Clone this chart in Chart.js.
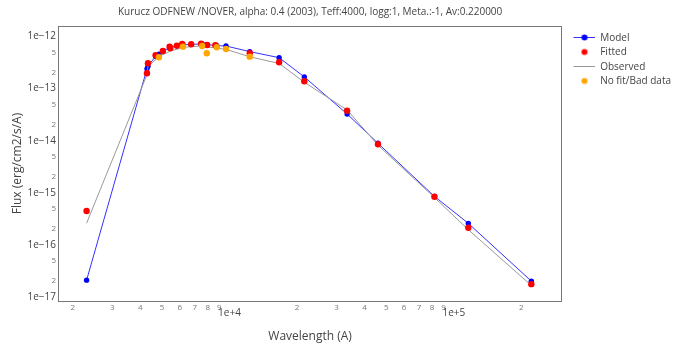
<!DOCTYPE html>
<html>
<head>
<meta charset="utf-8">
<script src="https://cdn.jsdelivr.net/npm/chart.js@4.4.1/dist/chart.umd.min.js"></script>
<style>
  html, body { margin: 0; padding: 0; background: #fff; }
  canvas { display: block; }
</style>
</head>
<body>
<canvas id="sedChart" width="692" height="351"></canvas>
<script>
const ctx = document.getElementById('sedChart');

const titleText = 'Kurucz ODFNEW /NOVER, alpha: 0.4 (2003), Teff:4000, logg:1, Meta.:-1, Av:0.220000';

// wavelengths in A, fluxes in erg/cm2/s/A
const modelWave = [2307, 4287, 4331, 4685, 4846, 5048, 5407, 5445, 5826, 6156, 6200, 6749, 7474, 7550, 7920, 7947, 8650, 8770, 9650, 12310, 16640, 21550, 33440, 45900, 81950, 116000, 221500];
const modelFlux = [2.09e-17, 2.4e-13, 2.7e-13, 4.2e-13, 4.6e-13, 5.3e-13, 6.1e-13, 6.2e-13, 6.6e-13, 6.9e-13, 6.9e-13, 7.1e-13, 7.2e-13, 7.2e-13, 7.0e-13, 7.0e-13, 6.8e-13, 6.7e-13, 6.6e-13, 5.15e-13, 3.94e-13, 1.68e-13, 3.26e-14, 8.9e-15, 8.5e-16, 2.58e-16, 2.0e-17];

const fitWave = [2307, 4287, 4331, 4685, 5048, 5407, 5445, 5826, 6156, 6749, 7474, 7947, 8650, 12310, 16640, 21550, 33440, 45900, 81950, 116000, 221500];
const fitFlux = [4.45e-16, 1.98e-13, 3.08e-13, 4.39e-13, 5.31e-13, 6.42e-13, 5.98e-13, 6.72e-13, 7.24e-13, 7.14e-13, 7.33e-13, 6.92e-13, 6.84e-13, 4.8e-13, 3.22e-13, 1.39e-13, 3.77e-14, 8.53e-15, 8.38e-16, 2.12e-16, 1.75e-17];

const obsWave = modelWave;
const obsFlux = [2.6e-16, 1.85e-13, 2.7e-13, 3.6e-13, 4.0e-13, 4.5e-13, 5.2e-13, 5.3e-13, 5.7e-13, 6.1e-13, 6.2e-13, 6.4e-13, 6.6e-13, 6.5e-13, 6.3e-13, 6.3e-13, 6.1e-13, 6.0e-13, 5.7e-13, 4.1e-13, 3.05e-13, 1.33e-13, 3.9e-14, 8.2e-15, 8.1e-16, 1.95e-16, 1.65e-17];

const noFitWave = [4846, 6200, 7550, 7920, 8770, 9650, 12310];
const noFitFlux = [4.02e-13, 6.42e-13, 6.62e-13, 4.8e-13, 6.25e-13, 5.8e-13, 4.12e-13];

const xTickValues = [2000, 3000, 4000, 5000, 6000, 7000, 8000, 9000, 10000, 20000, 30000, 40000, 50000, 60000, 70000, 80000, 90000, 100000, 200000];
const xTickLabels = ['2', '3', '4', '5', '6', '7', '8', '9', '1e+4', '2', '3', '4', '5', '6', '7', '8', '9', '1e+5', '2'];
const yTickValues = [1e-17, 2e-17, 5e-17, 1e-16, 2e-16, 5e-16, 1e-15, 2e-15, 5e-15, 1e-14, 2e-14, 5e-14, 1e-13, 2e-13, 5e-13, 1e-12];
const yTickLabels = ['1e\u221217', '2', '5', '1e\u221216', '2', '5', '1e\u221215', '2', '5', '1e\u221214', '2', '5', '1e\u221213', '2', '5', '1e\u221212'];

const toPoints = (w, f) => w.map((x, i) => ({ x: x, y: f[i] }));
const isMajor = label => label.startsWith('1e');

const makeIcon = (lineColor, dotColor) => {
  const c = document.createElement('canvas');
  c.width = 30;
  c.height = 10;
  const g = c.getContext('2d');
  if (lineColor) {
    g.strokeStyle = lineColor;
    g.lineWidth = 1;
    g.beginPath();
    g.moveTo(8, 4.5);
    g.lineTo(30, 4.5);
    g.stroke();
  }
  if (dotColor) {
    g.fillStyle = dotColor;
    g.beginPath();
    g.arc(19, 4.5, 3, 0, Math.PI * 2);
    g.fill();
  }
  return c;
};
const legendIcons = [
  makeIcon('#3333ff', '#0000ff'),
  makeIcon(null, '#ff0000'),
  makeIcon('#999999', null),
  makeIcon(null, '#ffa500'),
];

// box round the plot area, like plotly's mirrored axis lines
const frame = {
  id: 'frame',
  beforeDatasetsDraw(chart) {
    const { left, top, right, bottom } = chart.chartArea;
    const c = chart.ctx;
    c.save();
    c.strokeStyle = '#777';
    c.lineWidth = 1;
    c.strokeRect(Math.round(left) - 0.5, Math.round(top) + 0.5, Math.round(right - left) + 1, Math.round(bottom - top));
    c.restore();
  },
};

Chart.defaults.font.family = "'Open Sans', sans-serif";
Chart.defaults.color = '#444';

const chart = new Chart(ctx, {
  type: 'scatter',
  data: {
    datasets: [
      {
        label: 'Model',
        data: toPoints(modelWave, modelFlux),
        showLine: true,
        borderColor: '#3333ff',
        backgroundColor: '#0000ff',
        borderWidth: 1,
        pointRadius: 2.7,
        pointBorderWidth: 0,
        order: 4,
      },
      {
        label: 'Fitted',
        data: toPoints(fitWave, fitFlux),
        backgroundColor: '#ff0000',
        borderColor: '#ff0000',
        pointRadius: 3.2,
        pointBorderWidth: 0,
        order: 2,
      },
      {
        label: 'Observed',
        data: toPoints(obsWave, obsFlux),
        showLine: true,
        borderColor: '#999999',
        backgroundColor: '#999999',
        borderWidth: 1,
        pointRadius: 0,
        order: 3,
      },
      {
        label: 'No fit/Bad data',
        data: toPoints(noFitWave, noFitFlux),
        backgroundColor: '#ffa500',
        borderColor: '#ffa500',
        pointRadius: 3.2,
        pointBorderWidth: 0,
        order: 1,
      },
    ],
  },
  options: {
    responsive: false,
    animation: false,
    layout: { padding: { left: 0, right: 11, top: 0, bottom: 0 } },
    plugins: {
      title: {
        display: true,
        text: titleText,
        fullSize: false,
        color: '#444',
        font: { size: 10, weight: 'normal' },
        padding: { top: 6, bottom: 8 },
      },
      legend: {
        position: 'right',
        align: 'start',
        title: { display: true, text: ' ', padding: { top: 14.1, bottom: 0 } },
        labels: {
          usePointStyle: true,
          pointStyleWidth: 29.5,
          boxHeight: 10,
          padding: 4.5,
          color: '#444',
          font: { size: 10 },
          generateLabels: c => c.data.datasets.map((ds, i) => ({
            text: ds.label,
            pointStyle: legendIcons[i],
            datasetIndex: i,
            hidden: !c.isDatasetVisible(i),
            fontColor: '#444',
            lineWidth: 0,
          })),
        },
      },
      tooltip: { enabled: false },
    },
    scales: {
      x: {
        type: 'logarithmic',
        min: 1738,
        max: 301000,
        bounds: 'data',
        grid: { display: false, drawTicks: false },
        border: { display: false },
        afterBuildTicks: scale => {
          scale.ticks = xTickValues.map(v => ({ value: v }));
        },
        afterFit: scale => { scale.height = 50; },
        ticks: {
          autoSkip: false,
          maxRotation: 0,
          padding: 1.5,
          callback: (value, index) => {
            const label = xTickLabels[index];
            return isMajor(label) ? ['', label] : label;
          },
          font: c => isMajor(xTickLabels[c.index]) ? { size: 10, lineHeight: 0.72 } : { size: 8 },
          color: c => isMajor(xTickLabels[c.index]) ? '#444' : '#777',
        },
        title: {
          display: true,
          text: 'Wavelength (A)',
          color: '#444',
          font: { size: 12 },
          padding: { top: 0, bottom: 7 },
        },
      },
      y: {
        type: 'logarithmic',
        min: 8.3e-18,
        max: 1.6e-12,
        bounds: 'data',
        grid: { display: false, drawTicks: false },
        border: { display: false },
        afterBuildTicks: scale => {
          scale.ticks = yTickValues.map(v => ({ value: v }));
        },
        afterFit: scale => { scale.width = 59; },
        ticks: {
          autoSkip: false,
          padding: 3,
          callback: (value, index) => yTickLabels[index],
          font: c => isMajor(yTickLabels[c.index]) ? { size: 10 } : { size: 8 },
          color: c => isMajor(yTickLabels[c.index]) ? '#444' : '#777',
        },
        title: {
          display: true,
          text: 'Flux (erg/cm2/s/A)',
          color: '#444',
          font: { size: 12 },
          padding: { top: 10, bottom: 0 },
        },
      },
    },
  },
  plugins: [frame],
});
</script>
</body>
</html>
